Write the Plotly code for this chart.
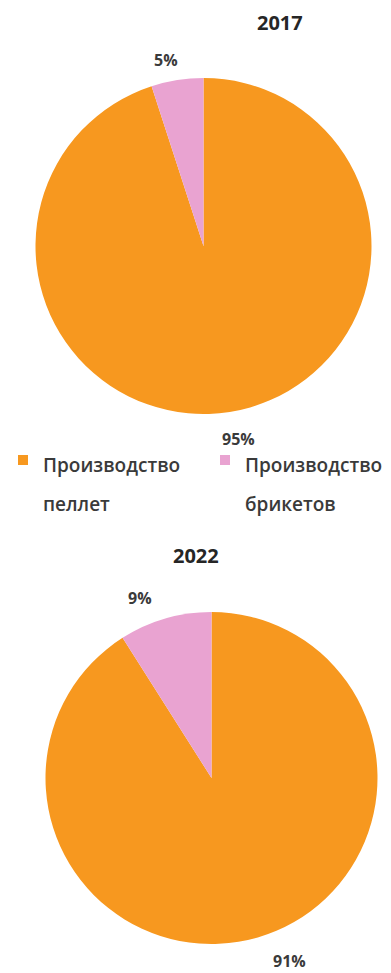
import plotly.graph_objects as go

# Share of wood-fuel output: pellets vs briquettes
categories = ["Производство пеллет", "Производство брикетов"]
years = ["2017", "2022"]
values_2017 = [95, 5]
values_2022 = [91, 9]

colors = ["#F7981F", "#E9A3D1"]
text_color = "#3A3A3A"
font_family = "Open Sans, DejaVu Sans, sans-serif"

W, H = 391, 973

def px_x(x):
    return x / W

def px_y(y):
    return 1 - y / H

def pct(values):
    total = sum(values)
    return [f"{round(v / total * 100)}%" for v in values]

def legend_label(name, size=19):
    # two-line legend text; the wider line pitch comes from the legend font size
    first, second = name.split(" ", 1)
    return (f"<span style='font-size:{size}px'>{first}</span><br>"
            f"<span style='font-size:{size}px'>{second}</span>")

fig = go.Figure()

# Pie for 2017 (upper)
fig.add_trace(go.Pie(
    labels=categories,
    values=values_2017,
    sort=False,
    direction="clockwise",
    rotation=0,
    marker=dict(colors=colors, line=dict(width=0)),
    textinfo="none",
    hoverinfo="label+percent",
    domain=dict(x=[px_x(35.5), px_x(371.5)], y=[px_y(414), px_y(78)]),
    showlegend=False,
))

# Pie for 2022 (lower)
fig.add_trace(go.Pie(
    labels=categories,
    values=values_2022,
    sort=False,
    direction="clockwise",
    rotation=0,
    marker=dict(colors=colors, line=dict(width=0)),
    textinfo="none",
    hoverinfo="label+percent",
    domain=dict(x=[px_x(45.5), px_x(377.5)], y=[px_y(944), px_y(612)]),
    showlegend=False,
))

# Legend keys: one entry per category, each in its own legend box
for i, (name, color) in enumerate(zip(categories, colors)):
    fig.add_trace(go.Scatter(
        x=[None], y=[None], mode="markers", name=legend_label(name),
        marker=dict(symbol="square", size=10, color=color),
        legend="legend" if i == 0 else "legend2",
        showlegend=True, hoverinfo="skip",
    ))

annotations = []

# Year titles
for year, (x, y) in zip(years, [(280, 23), (196, 555)]):
    annotations.append(dict(
        text=f"<b>{year}</b>", x=px_x(x), y=px_y(y), xref="paper", yref="paper",
        showarrow=False, font=dict(size=20, color="#262626", family=font_family),
        xanchor="center", yanchor="middle",
    ))

# Percentage labels next to the slices
label_pos = [
    (values_2017, [(238, 439), (166, 60)]),
    (values_2022, [(289, 961), (140, 598)]),
]
for vals, positions in label_pos:
    for txt, (x, y) in zip(pct(vals), positions):
        annotations.append(dict(
            text=f"<b>{txt}</b>", x=px_x(x), y=px_y(y), xref="paper", yref="paper",
            showarrow=False, font=dict(size=16, color=text_color, family=font_family),
            xanchor="center", yanchor="middle",
        ))

legend_font = dict(size=30, color=text_color, family=font_family, weight=600)
legend_common = dict(
    orientation="h", xanchor="left", yanchor="top", valign="top",
    y=px_y(434), font=legend_font, bgcolor="rgba(0,0,0,0)",
)

fig.update_layout(
    width=W,
    height=H,
    margin=dict(l=0, r=0, t=0, b=0),
    paper_bgcolor="white",
    plot_bgcolor="white",
    annotations=annotations,
    xaxis=dict(visible=False),
    yaxis=dict(visible=False),
    legend=dict(x=px_x(3), **legend_common),
    legend2=dict(x=px_x(205), **legend_common),
)

fig.write_html("out.html")
